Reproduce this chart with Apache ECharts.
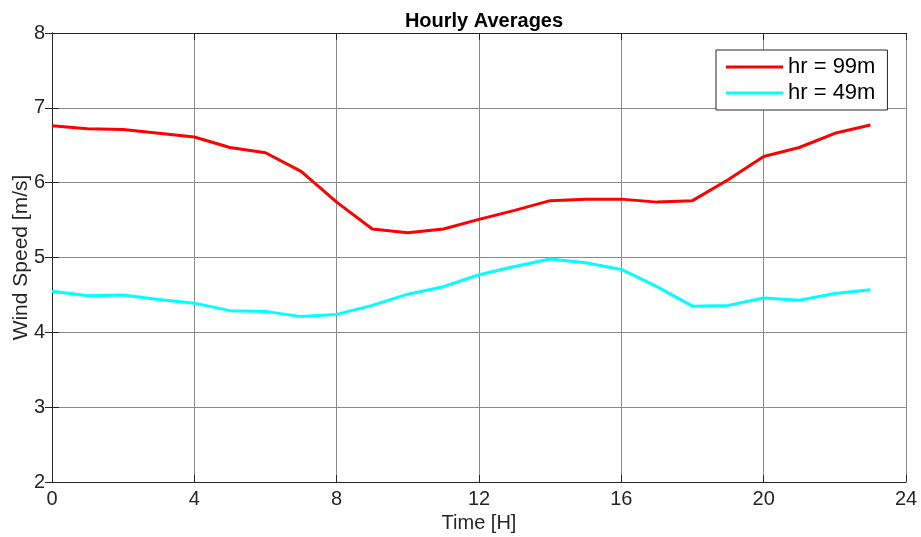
<!DOCTYPE html>
<html><head><meta charset="utf-8">
<script src="https://cdn.jsdelivr.net/npm/echarts@6/dist/echarts.min.js"></script>
<style>html,body{margin:0;padding:0;background:#fff}#c{width:921px;height:537px}</style>
</head><body><div id="c"></div>
<script>
const hours = [0,1,2,3,4,5,6,7,8,9,10,11,12,13,14,15,16,17,18,19,20,21,22,23];
const hr99 = [6.76,6.72,6.71,6.66,6.61,6.47,6.40,6.15,5.74,5.38,5.33,5.38,5.51,5.63,5.76,5.78,5.78,5.74,5.76,6.04,6.35,6.47,6.66,6.77];
const hr49 = [4.55,4.49,4.50,4.44,4.39,4.29,4.28,4.21,4.24,4.36,4.51,4.61,4.77,4.88,4.98,4.93,4.84,4.61,4.35,4.36,4.46,4.43,4.52,4.57];
const xTicks = [0,4,8,12,16,20,24];
const yTicks = [2,3,4,5,6,7,8];
const seriesNames = ['hr = 99m','hr = 49m'];

const chart = echarts.init(document.getElementById('c'), null, {renderer:'canvas'});
const txt = '#262626';
const font = 'Liberation Sans, Arial, Helvetica';
const axisCommon = {
  axisLine:{show:true,lineStyle:{color:txt,width:1}},
  axisTick:{show:true,inside:true,length:7,lineStyle:{color:txt}},
  splitLine:{show:false}
};
chart.setOption({
  animation:false,
  backgroundColor:'#fff',
  title:{text:'Hourly Averages',left:479,textAlign:'center',top:6,
    textStyle:{fontFamily:font,fontSize:20,fontWeight:'bold',color:'#000'}},
  grid:{left:52,right:15,top:33,bottom:55,show:false,containLabel:false,outerBoundsMode:'none'},
  legend:{orient:'vertical',left:716,top:50,
    padding:[6,12,6,10],itemGap:4,itemWidth:57,itemHeight:3,
    backgroundColor:'#fff',borderColor:'#262626',borderWidth:1,borderRadius:0,
    textStyle:{fontFamily:font,fontSize:22,color:'#000',lineHeight:22},
    icon:'rect',
    data:seriesNames},
  xAxis:[{type:'value',min:0,max:24,interval:4,position:'bottom',
    name:'Time [H]',nameLocation:'middle',nameGap:31,nameMoveOverlap:false,
    nameTextStyle:{fontFamily:font,fontSize:20,color:txt},
    axisLabel:{fontFamily:font,fontSize:20,color:txt,margin:7,
      formatter:v=>xTicks.includes(v)?String(v):''},
    ...axisCommon,
    splitLine:{show:true,lineStyle:{color:'#8a8a8a',width:1}}},
   {type:'value',min:0,max:24,interval:4,position:'top',axisLabel:{show:false},...axisCommon}],
  yAxis:[{type:'value',min:2,max:8,interval:1,position:'left',
    name:'Wind Speed [m/s]',nameLocation:'middle',nameGap:20,nameMoveOverlap:false,
    nameTextStyle:{fontFamily:font,fontSize:21,color:txt},
    axisLabel:{fontFamily:font,fontSize:20,color:txt,margin:7,
      formatter:v=>yTicks.includes(v)?String(v):''},
    ...axisCommon,
    splitLine:{show:true,lineStyle:{color:'#8a8a8a',width:1}}},
   {type:'value',min:2,max:8,interval:1,position:'right',axisLabel:{show:false},...axisCommon}],
  series:[
    {name:seriesNames[0],type:'line',data:hours.map((h,i)=>[h,hr99[i]]),showSymbol:false,
      lineStyle:{color:'#ff0000',width:3},itemStyle:{color:'#ff0000'}},
    {name:seriesNames[1],type:'line',data:hours.map((h,i)=>[h,hr49[i]]),showSymbol:false,
      lineStyle:{color:'#00ffff',width:3},itemStyle:{color:'#00ffff'}}
  ]
});
</script></body></html>
